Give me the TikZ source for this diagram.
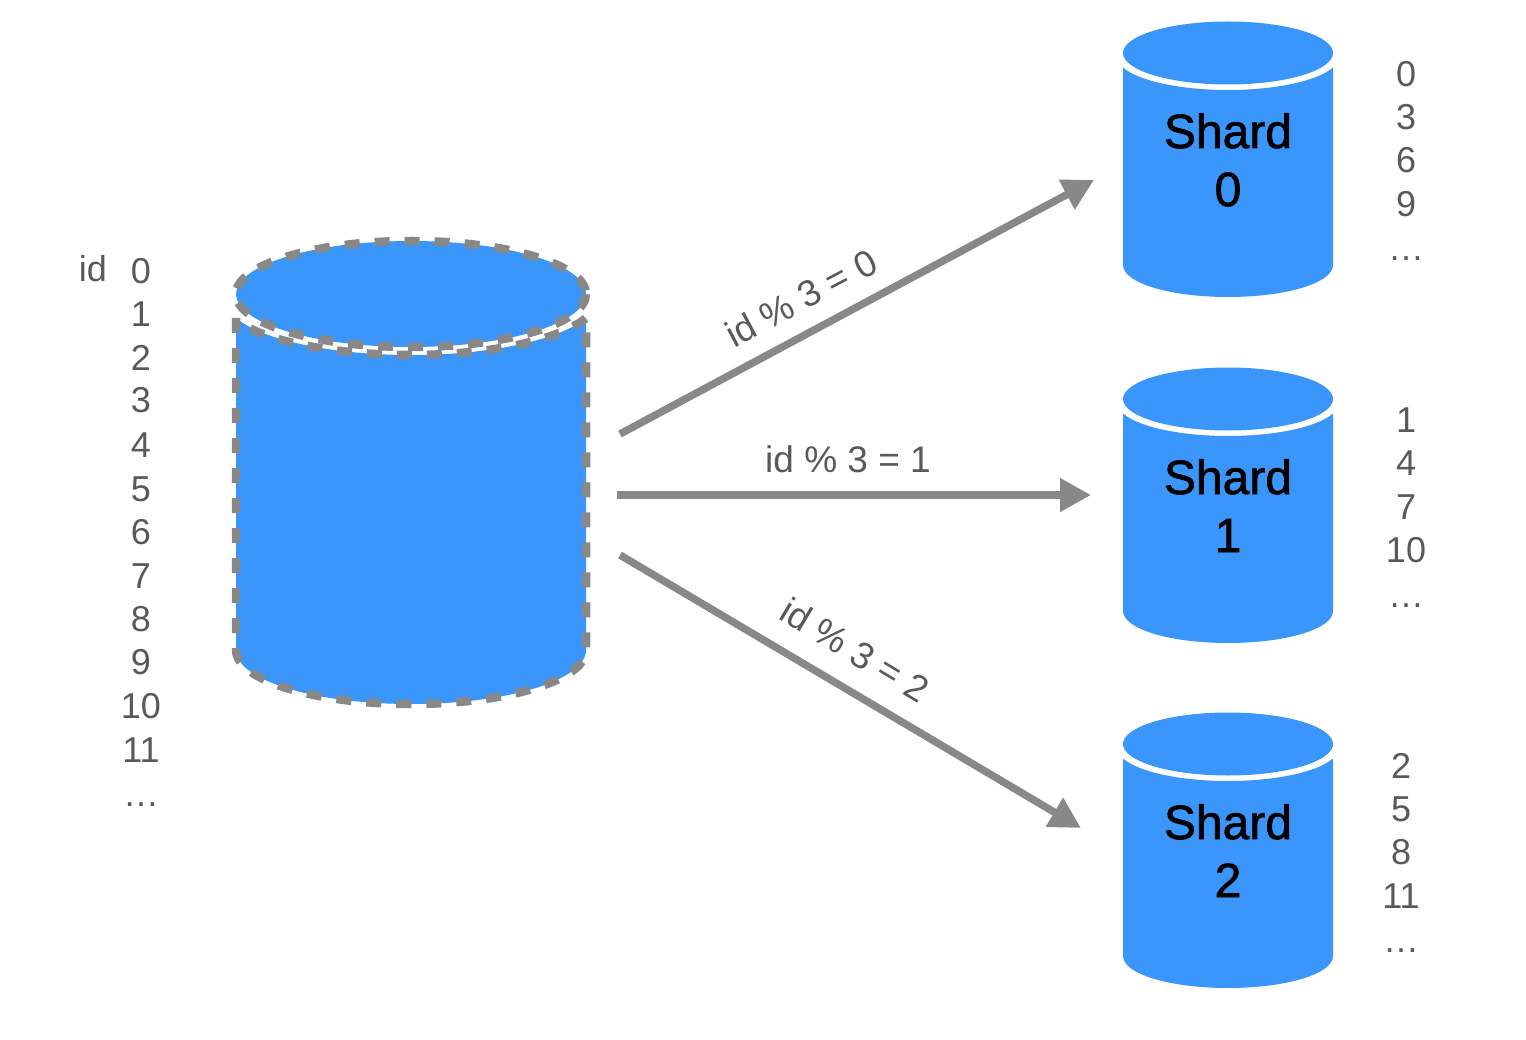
\documentclass[tikz,border=0pt]{standalone}
\usepackage{fontspec}
\setmainfont{Liberation Sans}
\newfontfamily\shardfont[FakeBold=1.5]{Liberation Sans}
\usetikzlibrary{arrows.meta}
\definecolor{dbblue}{HTML}{3A96FB}
\definecolor{linegray}{HTML}{888888}
\definecolor{textgray}{HTML}{595959}
\tikzset{
  cylfill/.style={fill=dbblue,draw=none},
  dashline/.style={draw=linegray,line width=8.5pt,dash pattern=on 15pt off 15pt},
  conn/.style={draw=linegray,line width=7.5pt,-{Triangle[length=31pt,width=32pt]}},
  listtxt/.style={inner sep=0pt,anchor=base,text=textgray,font=\fontsize{36}{40}\selectfont},
  edgetxt/.style={inner sep=0pt,text=textgray,font=\fontsize{37}{40}\selectfont},
  shardtxt/.style={inner sep=0pt,anchor=base,text=black,font=\shardfont\fontsize{48}{58}\selectfont},
}
\newcommand{\shardcyl}[2]{%
  \begin{scope}[yshift=-#1pt]
    \fill[dbblue] (1123,67.5) .. controls (1138.4,81) and (1180.5,90) .. (1228,90)
      .. controls (1275.5,90) and (1317.6,81) .. (1333,67.5) -- (1333,265)
      .. controls (1333,283) and (1286,297) .. (1228,297)
      .. controls (1170,297) and (1123,283) .. (1123,265) -- cycle;
    \fill[dbblue] (1228,53) ellipse [x radius=105,y radius=31.5];
    \node[shardtxt] (shard#2a) at (1228,148) {Shard};
    \node[shardtxt] (shard#2b) at (1228,206) {#2};
  \end{scope}}
\begin{document}
\begin{tikzpicture}[x=1pt,y=-1pt]
\useasboundingbox (0,0) rectangle (1526,1040);
% source cylinder
\path[cylfill] (236,318) -- (236,650)
  .. controls (236,680) and (314,704) .. (411,704)
  .. controls (508,704) and (586,680) .. (586,650) -- (586,318)
  .. controls (560,340) and (490,355) .. (411,355)
  .. controls (332,355) and (262,340) .. (236,318) -- cycle;
\path[dashline] (236,318) -- (236,650)
  .. controls (236,680) and (314,704) .. (411,704)
  .. controls (508,704) and (586,680) .. (586,650) -- (586,318)
  .. controls (560,340) and (490,355) .. (411,355)
  .. controls (332,355) and (262,340) .. (240,322);
\fill[dbblue] (411,294) ellipse [x radius=175,y radius=53];
\draw[dashline] (411,294) ellipse [x radius=175,y radius=53];
% shards
\shardcyl{0}{0}
\shardcyl{346}{1}
\shardcyl{691}{2}
% connectors
\coordinate (src0) at (620,434);
\coordinate (dst0) at (1094,180);
\coordinate (src1) at (617,495);
\coordinate (dst1) at (1091,495);
\coordinate (src2) at (620,555);
\coordinate (dst2) at (1081,828);
\draw[conn] (src0) -- (dst0);
\draw[conn] (src1) -- (dst1);
\draw[conn] (src2) -- (dst2);
\node[edgetxt,rotate=28] (lab0) at (801,298) {id \% 3 = 0};
\node[edgetxt] (lab1) at (848,459) {id \% 3 = 1};
\node[edgetxt,rotate=-31] (lab2) at (855,650) {id \% 3 = 2};
% id list
\node[listtxt] (idhead) at (93,282) {id};
\foreach \t/\y in {0/284,1/327,2/371,3/413,4/457,5/501,6/544,7/588,8/631,9/674,10/718,11/762,…/806}
  \node[listtxt] (ids\y) at (141,\y) {\t};
\foreach \t/\y in {0/87,3/130,6/173,9/217,…/261}
  \node[listtxt] (sa\y) at (1406,\y) {\t};
\foreach \t/\y in {1/432,4/475,7/519,10/562,…/607}
  \node[listtxt] (sb\y) at (1406,\y) {\t};
\foreach \t/\y in {2/778,5/821,8/864,11/908,…/952}
  \node[listtxt] (sc\y) at (1401,\y) {\t};
\end{tikzpicture}
\end{document}
